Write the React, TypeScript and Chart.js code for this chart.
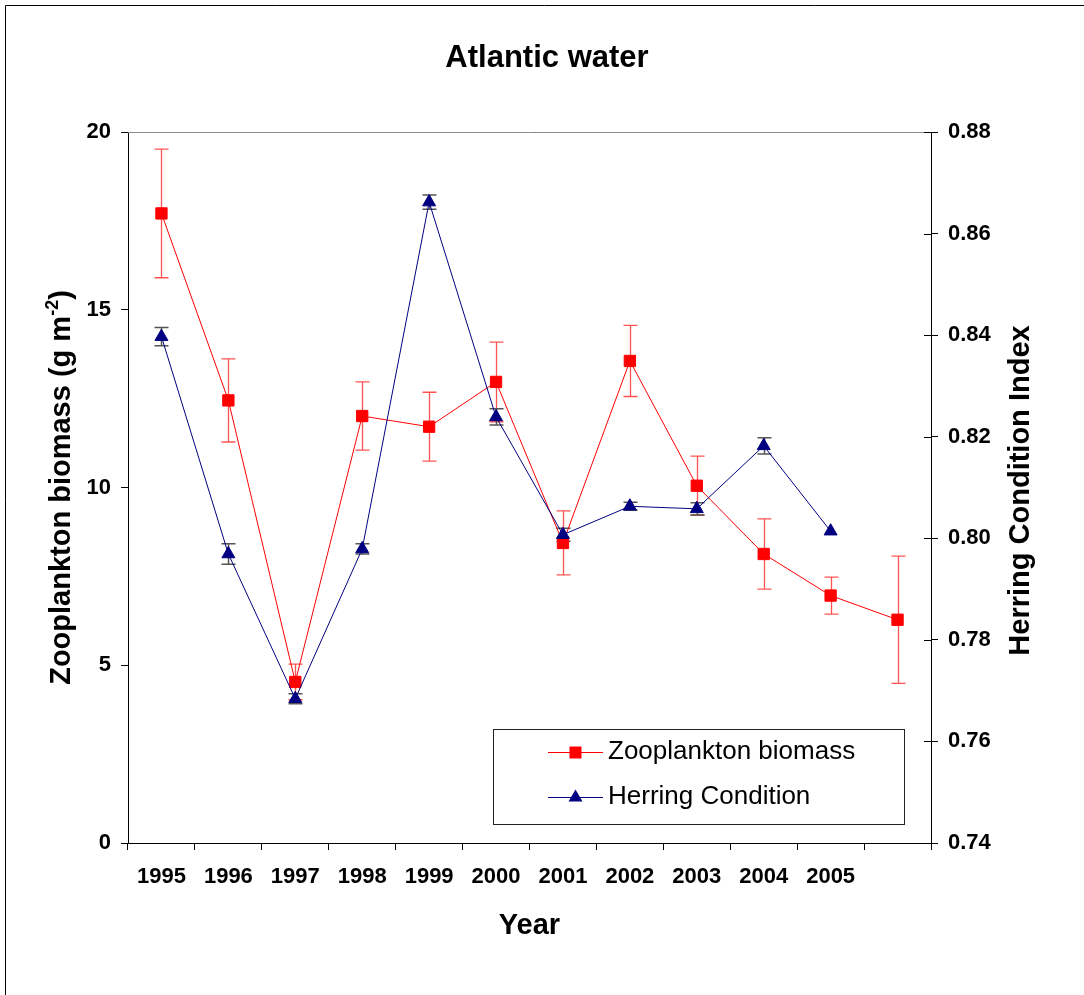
import React, { useEffect, useRef } from 'react';
import { Chart, registerables } from 'chart.js';

Chart.register(...registerables);

const FONT = 'Arial, "Liberation Sans", sans-serif';

const years = ['1995', '1996', '1997', '1998', '1999', '2000', '2001', '2002', '2003', '2004', '2005', ''];
const zooplankton = [17.71, 12.45, 4.53, 12.01, 11.71, 12.97, 8.44, 13.56, 10.05, 8.13, 6.96, 6.28];
const zooplanktonErr = [1.81, 1.17, 0.5, 0.96, 0.97, 1.12, 0.9, 1.0, 0.83, 0.99, 0.52, 1.79];
const herring = [0.8397, 0.7969, 0.7684, 0.7979, 0.8662, 0.8239, 0.8007, 0.8063, 0.8058, 0.8182, 0.8014, null];
const herringErr = [0.0018, 0.002, 0.001, 0.001, 0.0014, 0.0016, 0.0013, 0.0008, 0.0012, 0.0016, null, null];
const leftTicks = [0, 5, 10, 15, 20];
const rightTicks = [0.74, 0.76, 0.78, 0.8, 0.82, 0.84, 0.86, 0.88];

const chartTitle = 'Atlantic water';
const xTitle = 'Year';
const yLeftTitle = 'Zooplankton biomass (g m';
const yLeftTitleSup = '-2';
const yLeftTitleEnd = ')';
const yRightTitle = 'Herring Condition Index';

const errorSets = [
  { dataset: 0, errors: zooplanktonErr, color: 'rgba(255,40,40,0.8)', width: 1.3 },
  { dataset: 1, errors: herringErr, color: '#555555', width: 1.5 },
];

const errorBarPlugin = {
  id: 'errorBars',
  beforeDatasetsDraw(chart: any) {
    const ctx = chart.ctx;
    ctx.save();
    errorSets.forEach((es) => {
      const meta = chart.getDatasetMeta(es.dataset);
      const yScale = chart.scales[meta.yAxisID];
      const values = chart.data.datasets[es.dataset].data as (number | null)[];
      ctx.strokeStyle = es.color;
      ctx.lineWidth = es.width;
      meta.data.forEach((pt: any, i: number) => {
        const v = values[i];
        const e = es.errors[i];
        if (v == null || e == null) return;
        const x = Math.round(pt.x) + 0.5;
        const yTop = yScale.getPixelForValue(v + e);
        const yBot = yScale.getPixelForValue(v - e);
        ctx.beginPath();
        ctx.moveTo(x, yTop);
        ctx.lineTo(x, yBot);
        ctx.moveTo(x - 7, yTop);
        ctx.lineTo(x + 7, yTop);
        ctx.moveTo(x - 7, yBot);
        ctx.lineTo(x + 7, yBot);
        ctx.stroke();
      });
    });
    ctx.restore();
  },
};

function drawMarker(ctx: CanvasRenderingContext2D, style: string, x: number, y: number, color: string) {
  ctx.fillStyle = color;
  ctx.beginPath();
  if (style === 'rect') {
    ctx.rect(x - 6, y - 6, 12, 12);
  } else {
    ctx.moveTo(x, y - 8);
    ctx.lineTo(x + 7, y + 4);
    ctx.lineTo(x - 7, y + 4);
    ctx.closePath();
  }
  ctx.fill();
}

const decorPlugin = {
  id: 'decor',
  beforeDraw(chart: any) {
    const ctx = chart.ctx;
    ctx.save();
    ctx.strokeStyle = '#000';
    ctx.lineWidth = 1;
    ctx.beginPath();
    ctx.moveTo(5.5, chart.height);
    ctx.lineTo(5.5, 5.5);
    ctx.lineTo(chart.width, 5.5);
    ctx.stroke();
    ctx.restore();
  },
  afterDraw(chart: any) {
    const ctx = chart.ctx;
    const area = chart.chartArea;
    ctx.save();

    // plot area top border
    ctx.strokeStyle = '#8a8a8a';
    ctx.lineWidth = 1;
    ctx.beginPath();
    ctx.moveTo(area.left, Math.round(area.top) + 0.5);
    ctx.lineTo(area.right, Math.round(area.top) + 0.5);
    ctx.stroke();

    // inward ticks on right axis
    const y1 = chart.scales.y1;
    ctx.strokeStyle = '#000';
    ctx.beginPath();
    y1.ticks.forEach((t: any) => {
      const py = Math.round(y1.getPixelForValue(t.value)) + 0.5;
      ctx.moveTo(area.right - 7, py);
      ctx.lineTo(area.right, py);
    });
    ctx.stroke();

    // chart title
    ctx.fillStyle = '#000';
    ctx.font = `bold 31px ${FONT}`;
    ctx.textAlign = 'center';
    ctx.textBaseline = 'alphabetic';
    ctx.fillText(chartTitle, 547, 67);

    // left y title with superscript
    ctx.save();
    ctx.translate(60, (area.top + area.bottom) / 2);
    ctx.rotate(-Math.PI / 2);
    ctx.textAlign = 'left';
    ctx.font = `bold 29px ${FONT}`;
    const wMain = ctx.measureText(yLeftTitle).width;
    const wEnd = ctx.measureText(yLeftTitleEnd).width;
    ctx.font = `bold 18px ${FONT}`;
    const wSup = ctx.measureText(yLeftTitleSup).width;
    let x = -(wMain + wSup + wEnd) / 2;
    ctx.font = `bold 29px ${FONT}`;
    ctx.fillText(yLeftTitle, x, 10);
    x += wMain;
    ctx.font = `bold 18px ${FONT}`;
    ctx.fillText(yLeftTitleSup, x, -2);
    x += wSup;
    ctx.font = `bold 29px ${FONT}`;
    ctx.fillText(yLeftTitleEnd, x, 10);
    ctx.restore();

    // right y title
    ctx.save();
    ctx.translate(1019, (area.top + area.bottom) / 2 + 3);
    ctx.rotate(-Math.PI / 2);
    ctx.textAlign = 'center';
    ctx.font = `bold 29px ${FONT}`;
    ctx.fillText(yRightTitle, 0, 10);
    ctx.restore();

    // legend
    ctx.strokeStyle = '#222';
    ctx.lineWidth = 1;
    ctx.strokeRect(493.5, 729.5, 411, 95);
    const rows = [
      { ds: 0, y: 752 },
      { ds: 1, y: 797 },
    ];
    rows.forEach((r) => {
      const ds: any = chart.data.datasets[r.ds];
      ctx.strokeStyle = ds.borderColor;
      ctx.lineWidth = 1;
      ctx.beginPath();
      ctx.moveTo(548, r.y + 0.5);
      ctx.lineTo(603, r.y + 0.5);
      ctx.stroke();
      drawMarker(ctx, ds.pointStyle, 575.5, r.y + 0.5, ds.pointBackgroundColor);
      ctx.fillStyle = '#000';
      ctx.font = `26px ${FONT}`;
      ctx.textAlign = 'left';
      ctx.textBaseline = 'middle';
      ctx.fillText(ds.label, 608, r.y);
    });

    ctx.restore();
  },
};

const tickFont = { family: FONT, size: 22, weight: 'bold' as const };

export default function App() {
  const ref = useRef<HTMLCanvasElement>(null);

  useEffect(() => {
    if (!ref.current) return;
    const chart = new Chart(ref.current, {
      type: 'line',
      data: {
        labels: years,
        datasets: [
          {
            label: 'Zooplankton biomass',
            data: zooplankton,
            yAxisID: 'y',
            borderColor: '#ff0000',
            backgroundColor: '#ff0000',
            borderWidth: 1,
            pointStyle: 'rect',
            pointRadius: 8,
            pointBorderWidth: 1,
            pointBackgroundColor: '#ff0000',
            pointBorderColor: '#ff0000',
            tension: 0,
            order: 2,
          },
          {
            label: 'Herring Condition',
            data: herring,
            yAxisID: 'y1',
            borderColor: '#000080',
            backgroundColor: '#000080',
            borderWidth: 1,
            pointStyle: 'triangle',
            pointRadius: 7.5,
            pointBorderWidth: 1,
            pointBackgroundColor: '#000080',
            pointBorderColor: '#000080',
            tension: 0,
            order: 1,
          },
        ],
      },
      options: {
        responsive: false,
        animation: false,
        devicePixelRatio: 1,
        layout: { padding: { top: 132, left: 0, right: 0, bottom: 0 } },
        plugins: {
          legend: { display: false },
          title: { display: false },
          tooltip: { enabled: false },
        },
        scales: {
          x: {
            type: 'category',
            offset: true,
            grid: { offset: true, drawOnChartArea: false, drawTicks: true, tickLength: 7, tickColor: '#000', tickWidth: 1 },
            border: { display: true, color: '#000', width: 1 },
            ticks: { font: tickFont, color: '#000', padding: 14, maxRotation: 0, autoSkip: false },
            title: {
              display: true,
              text: xTitle,
              color: '#000',
              font: { family: FONT, size: 29, weight: 'bold' },
              padding: { top: 0, bottom: 52 },
            },
            afterFit(s: any) {
              s.height = 152;
            },
          },
          y: {
            type: 'linear',
            position: 'left',
            min: 0,
            max: 20,
            grid: { drawOnChartArea: false, drawTicks: true, tickLength: 7, tickColor: '#000' },
            border: { display: true, color: '#000', width: 1 },
            ticks: { font: tickFont, color: '#000', padding: 10 },
            afterBuildTicks(s: any) {
              s.ticks = leftTicks.map((v) => ({ value: v }));
            },
            afterFit(s: any) {
              s.width = 128;
            },
          },
          y1: {
            type: 'linear',
            position: 'right',
            min: 0.74,
            max: 0.88,
            grid: { drawOnChartArea: false, drawTicks: true, tickLength: 7, tickColor: '#000' },
            border: { display: true, color: '#000', width: 1 },
            ticks: {
              font: tickFont,
              color: '#000',
              padding: 10,
              callback: (v: any) => Number(v).toFixed(2),
            },
            afterBuildTicks(s: any) {
              s.ticks = rightTicks.map((v) => ({ value: v }));
            },
            afterFit(s: any) {
              s.width = 153;
            },
          },
        },
      },
      plugins: [decorPlugin, errorBarPlugin],
    } as any);
    return () => chart.destroy();
  }, []);

  return (
    <div style={{ position: 'absolute', left: 0, top: 0, width: 1084, height: 995, overflow: 'hidden', background: '#fff' }}>
      <canvas ref={ref} width={1084} height={995} style={{ display: 'block', width: 1084, height: 995 }} />
    </div>
  );
}
